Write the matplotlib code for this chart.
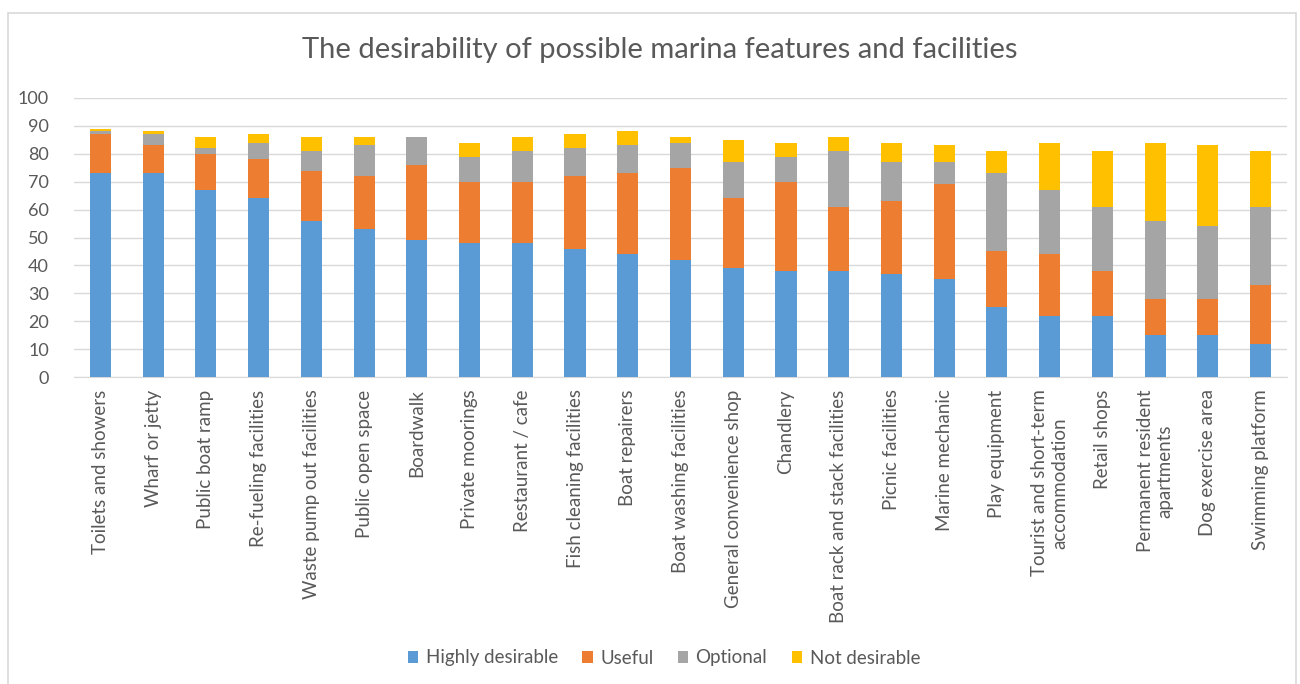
import matplotlib
matplotlib.use("Agg")
import matplotlib.pyplot as plt
from matplotlib.patches import Rectangle
import numpy as np

plt.rcParams['font.family'] = ['Lato', 'DejaVu Sans']

features = ["Toilets and showers", "Wharf or jetty", "Public boat ramp", "Re-fueling facilities",
            "Waste pump out facilities", "Public open space", "Boardwalk", "Private moorings",
            "Restaurant / cafe", "Fish cleaning facilities", "Boat repairers", "Boat washing facilities",
            "General convenience shop", "Chandlery", "Boat rack and stack facilities", "Picnic facilities",
            "Marine mechanic", "Play equipment", "Tourist and short-term\naccommodation", "Retail shops",
            "Permanent resident\napartments", "Dog exercise area", "Swimming platform"]

highly = [73, 73, 67, 64, 56, 53, 49, 48, 48, 46, 44, 42, 39, 38, 38, 37, 35, 25, 22, 22, 15, 15, 12]
useful = [14, 10, 13, 14, 18, 19, 27, 22, 22, 26, 29, 33, 25, 32, 23, 26, 34, 20, 22, 16, 13, 13, 21]
optional = [1, 4, 2, 6, 7, 11, 10, 9, 11, 10, 10, 9, 13, 9, 20, 14, 8, 28, 23, 23, 28, 26, 28]
not_desirable = [1, 1, 4, 3, 5, 3, 0, 5, 5, 5, 5, 2, 8, 5, 5, 7, 6, 8, 17, 20, 28, 29, 20]

series = [("Highly desirable", highly, "#5B9BD5"),
          ("Useful", useful, "#ED7D31"),
          ("Optional", optional, "#A5A5A5"),
          ("Not desirable", not_desirable, "#FFC000")]

text_col = "#595959"

fig = plt.figure(figsize=(13, 6.84), dpi=100)
ax = fig.add_axes([74/1300, 1 - 377/684, 1213/1300, 279/684])

x = np.arange(len(features))
bottom = np.zeros(len(features))
for name, vals, col in series:
    ax.bar(x, vals, width=0.4, bottom=bottom, color=col, label=name, zorder=3)
    bottom += np.array(vals)

ax.set_xlim(-0.5, len(features) - 0.5)
ax.set_ylim(0, 100)
ax.set_yticks(range(0, 101, 10))
ax.grid(axis='y', color='#D9D9D9', linewidth=1, zorder=0)
for s in ['top', 'right', 'left']:
    ax.spines[s].set_visible(False)
ax.spines['bottom'].set_color('#D9D9D9')
ax.tick_params(axis='both', length=0, colors=text_col, labelsize=13.5)
ax.tick_params(axis='y', pad=18, labelsize=13)
ax.set_xticks(x)
ax.set_xticklabels(features, rotation=90, va='top', ha='center', multialignment='center')
ax.tick_params(axis='x', pad=9)

fig.text(660/1300, 1 - 50/684, "The desirability of possible marina features and facilities",
         ha='center', va='center', fontsize=21, color=text_col)

fig.legend(loc='center', bbox_to_anchor=(664/1300, 1 - 658/684), ncol=4, frameon=False,
           fontsize=13.5, labelcolor=text_col, handlelength=0.55, handleheight=0.55,
           handletextpad=0.4, columnspacing=1.3)

fig.patches.append(Rectangle((8/1300, -0.01), 1288/1300, 1 - 13/684 + 0.01, transform=fig.transFigure,
                             fill=False, edgecolor='#D9D9D9', linewidth=1.2))

fig.savefig("out.png", dpi=100)
